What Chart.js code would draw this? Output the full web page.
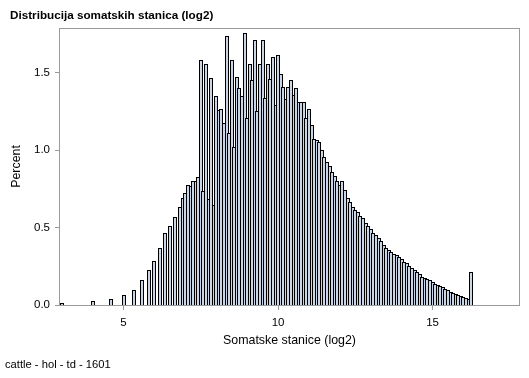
<!DOCTYPE html>
<html>
<head>
<meta charset="utf-8">
<script src="https://cdn.jsdelivr.net/npm/chart.js@4.4.1/dist/chart.umd.min.js"></script>
<style>
html,body{margin:0;padding:0;background:#ffffff;}
#wrap{width:529px;height:378px;position:relative;}
</style>
</head>
<body>
<div id="wrap"><canvas id="c"></canvas></div>
<script>
const chartTitle = 'Distribucija somatskih stanica (log2)';
const footnote = 'cattle - hol - td - 1601';
const xAxisTitle = 'Somatske stanice (log2)';
const yAxisTitle = 'Percent';
const xTickValues = [5, 10, 15];
const yTickValues = [0, 0.5, 1.0, 1.5];

// histogram bin midpoints (log2 scale)
const binMidpoints = [3.000, 4.000, 4.583, 5.000, 5.333, 5.583, 5.833, 6.000, 6.167, 6.333, 6.500, 6.667,
  6.833, 6.917,
  7.000, 7.083, 7.167, 7.250, 7.333, 7.417, 7.500, 7.583, 7.667, 7.750, 7.833, 7.917,
  8.000, 8.083, 8.167, 8.250, 8.333, 8.417, 8.500, 8.583, 8.667, 8.750, 8.833, 8.917,
  9.000, 9.083, 9.167, 9.250, 9.333, 9.417, 9.500, 9.583, 9.667, 9.750, 9.833, 9.917,
  10.000, 10.083, 10.167, 10.250, 10.333, 10.417, 10.500, 10.583, 10.667, 10.750, 10.833, 10.917,
  11.000, 11.083, 11.167, 11.250, 11.333, 11.417, 11.500, 11.583, 11.667, 11.750, 11.833, 11.917,
  12.000, 12.083, 12.167, 12.250, 12.333, 12.417, 12.500, 12.583, 12.667, 12.750, 12.833, 12.917,
  13.000, 13.083, 13.167, 13.250, 13.333, 13.417, 13.500, 13.583, 13.667, 13.750, 13.833, 13.917,
  14.000, 14.083, 14.167, 14.250, 14.333, 14.417, 14.500, 14.583, 14.667, 14.750, 14.833, 14.917,
  15.000, 15.083, 15.167, 15.250, 15.333, 15.417, 15.500, 15.583, 15.667, 15.750, 15.833, 15.917,
  16.000, 16.083, 16.167, 16.250];

// percent of records in each bin
const percentValues = [0.011, 0.024, 0.037, 0.062, 0.095, 0.161, 0.224, 0.284, 0.366, 0.463, 0.510, 0.570,
  0.635, 0.690,
  0.720, 0.775, 0.770, 0.800, 0.800, 0.824, 1.582, 0.738, 1.556, 0.682, 1.463, 0.646,
  1.349, 1.259, 1.263, 1.177, 1.737, 1.108, 1.582, 1.018, 1.470, 1.399, 1.349, 1.754,
  1.210, 1.554, 1.450, 1.711, 1.252, 1.554, 1.711, 1.339, 1.554, 1.459, 1.599, 1.291,
  1.614, 1.489, 1.410, 1.330, 1.405, 1.453, 1.356, 1.403, 1.308, 1.313, 1.313, 1.205,
  1.265, 1.160, 1.070, 1.065, 1.050, 1.000, 0.955, 0.925, 0.900, 0.860, 0.830, 0.800,
  0.775, 0.800, 0.740, 0.690, 0.665, 0.635, 0.615, 0.600, 0.575, 0.560, 0.530, 0.510,
  0.490, 0.465, 0.452, 0.430, 0.415, 0.390, 0.370, 0.355, 0.340, 0.330, 0.320, 0.308,
  0.295, 0.280, 0.269, 0.252, 0.237, 0.226, 0.215, 0.200, 0.183, 0.176, 0.170, 0.161,
  0.151, 0.136, 0.129, 0.123, 0.114, 0.101, 0.097, 0.086, 0.080, 0.069, 0.065, 0.058,
  0.052, 0.045, 0.037, 0.213];

const FONT = '"Liberation Sans", Arial, Helvetica, sans-serif';
const FRAME = '#9a9a9a';

// snap the bar elements computed by the scales to whole pixels for crisp outlines
const snapPlugin = {
  id: 'snapBars',
  beforeDatasetsDraw(chart) {
    chart.getDatasetMeta(0).data.forEach(el => {
      el.x = Math.round(el.x);
      el.y = Math.round(el.y);
      el.base = Math.round(el.base);
      el.width = 4;
    });
  }
};

const framePlugin = {
  id: 'frameAndText',
  afterDraw(chart) {
    const {ctx, chartArea: a} = chart;
    ctx.save();
    ctx.strokeStyle = FRAME;
    ctx.lineWidth = 1;
    ctx.strokeRect(Math.round(a.left) - 0.5, Math.round(a.top) + 0.5,
                   Math.round(a.right) - Math.round(a.left) + 1, Math.round(a.bottom) - Math.round(a.top));
    ctx.fillStyle = '#000';
    ctx.textAlign = 'left';
    ctx.textBaseline = 'alphabetic';
    ctx.font = 'bold 11.7px ' + FONT;
    ctx.fillText(chartTitle, 10, 19);
    ctx.font = '11.2px ' + FONT;
    ctx.fillText(footnote, 5, 368);
    ctx.restore();
  }
};

new Chart(document.getElementById('c'), {
  type: 'bar',
  data: {
    datasets: [{
      data: binMidpoints.map((x, i) => ({x: x, y: percentValues[i]})),
      backgroundColor: '#cad5e5',
      borderColor: '#000000',
      borderWidth: 1,
      barThickness: 4,
      inflateAmount: 0,
      borderSkipped: 'start'
    }]
  },
  options: {
    responsive: true,
    maintainAspectRatio: false,
    animation: false,
    devicePixelRatio: 1,
    layout: {padding: {top: 28, right: 10, bottom: 0, left: 0}},
    plugins: {legend: {display: false}, tooltip: {enabled: false}, title: {display: false}},
    scales: {
      x: {
        type: 'linear',
        min: 2.943,
        max: 17.796,
        offset: false,
        grid: {display: true, drawOnChartArea: false, drawTicks: true, tickLength: 5, color: FRAME, offset: false},
        border: {display: false},
        afterBuildTicks: (s) => { s.ticks = xTickValues.map(v => ({value: v})); },
        afterFit: (s) => { s.height = 73; },
        ticks: {padding: 5.8, color: '#000', font: {family: FONT, size: 11.5}, maxRotation: 0,
                callback: (v) => String(v)},
        title: {display: true, text: xAxisTitle, color: '#000', font: {family: FONT, size: 12.4},
                padding: {top: 0, bottom: 29.6}}
      },
      y: {
        type: 'linear',
        min: 0,
        max: 1.788,
        grid: {display: true, drawOnChartArea: false, drawTicks: true, tickLength: 5, color: FRAME},
        border: {display: false},
        afterBuildTicks: (s) => { s.ticks = yTickValues.map(v => ({value: v})); },
        afterFit: (s) => { s.width = 60; },
        ticks: {padding: 5, color: '#000', font: {family: FONT, size: 11.5},
                callback: (v) => Number(v).toFixed(1)},
        title: {display: true, text: yAxisTitle, color: '#000', font: {family: FONT, size: 12.4},
                padding: {top: 9.3, bottom: 0}}
      }
    }
  },
  plugins: [snapPlugin, framePlugin]
});
</script>
</body>
</html>
